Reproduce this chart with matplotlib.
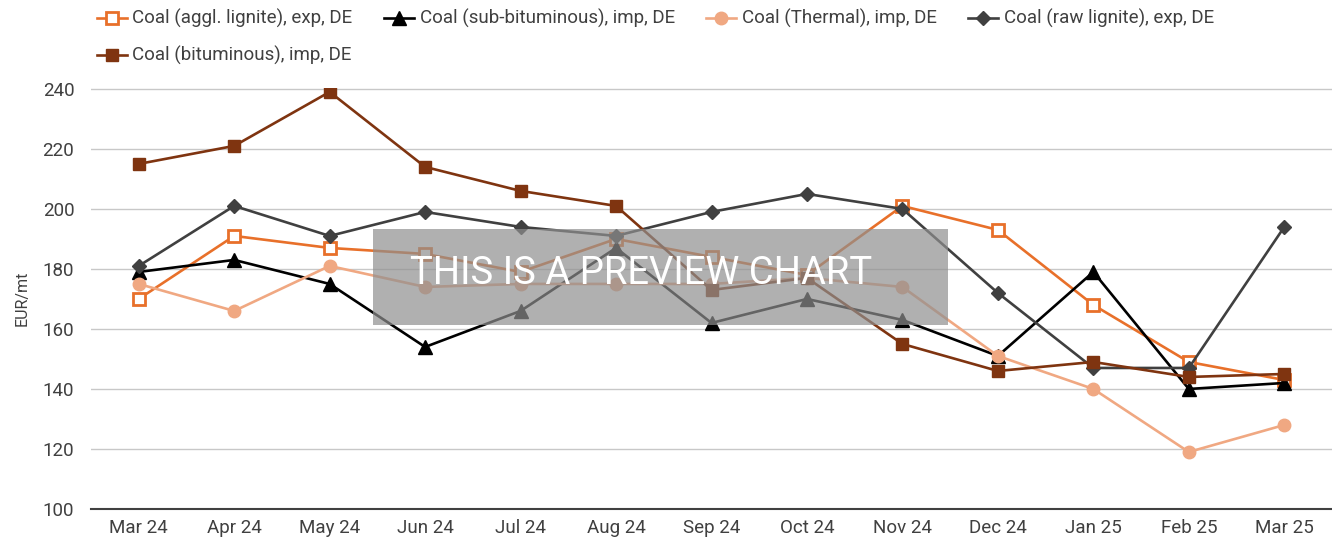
import matplotlib.pyplot as plt
from matplotlib.patches import Rectangle

plt.rcParams['font.family'] = ['Roboto', 'DejaVu Sans']

# Datos
meses = ['Mar 24', 'Apr 24', 'May 24', 'Jun 24', 'Jul 24', 'Aug 24', 'Sep 24',
         'Oct 24', 'Nov 24', 'Dec 24', 'Jan 25', 'Feb 25', 'Mar 25']

agglLignite = [170, 191, 187, 185, 179, 190, 184, 178, 201, 193, 168, 149, 143]
subBituminous = [179, 183, 175, 154, 166, 187, 162, 170, 163, 151, 179, 140, 142]
thermal = [175, 166, 181, 174, 175, 175, 175, 177, 174, 151, 140, 119, 128]
rawLignite = [181, 201, 191, 199, 194, 191, 199, 205, 200, 172, 147, 147, 194]
bituminous = [215, 221, 239, 214, 206, 201, 173, 177, 155, 146, 149, 144, 145]

fig = plt.figure(figsize=(13.32, 5.41), dpi=100)
ax = fig.add_axes([91 / 1332, 32 / 541, 1 - 91 / 1332, (509 - 88) / 541])

x = range(len(meses))
ax.plot(x, agglLignite, color='#E8702A', lw=1.9, marker='s', ms=8,
        mfc='white', mec='#E8702A', mew=2, label='Coal (aggl. lignite), exp, DE')
ax.plot(x, subBituminous, color='black', lw=1.9, marker='^', ms=10,
        label='Coal (sub-bituminous), imp, DE')
ax.plot(x, thermal, color='#F0A882', lw=1.9, marker='o', ms=9,
        label='Coal (Thermal), imp, DE')
ax.plot(x, rawLignite, color='#404040', lw=1.9, marker='D', ms=7,
        label='Coal (raw lignite), exp, DE')
ax.plot(x, bituminous, color='#7F3410', lw=1.9, marker='s', ms=9,
        label='Coal (bituminous), imp, DE')

ax.set_xlim(-0.5, len(meses) - 0.5)
ax.set_ylim(100, 240.3)
ax.set_yticks(range(100, 241, 20))
ax.set_xticks(list(x))
ax.set_xticklabels(meses)
ax.grid(axis='y', color='#C8C8C8', lw=1)
ax.set_axisbelow(True)
for s in ['top', 'right', 'left']:
    ax.spines[s].set_visible(False)
ax.spines['bottom'].set_color('#404040')
ax.spines['bottom'].set_linewidth(1.5)
ax.tick_params(axis='both', length=0, labelsize=13.5, labelcolor='#404040')
ax.tick_params(axis='y', pad=12)
ax.tick_params(axis='x', pad=7)
ax.set_ylabel('EUR/mt', fontsize=11.5, color='#404040', labelpad=9)

# Cuadro de vista previa
ax.add_patch(Rectangle((373 / 1332, 1 - 325 / 541), (948 - 373) / 1332, (325 - 229) / 541,
                       transform=fig.transFigure, facecolor='#8F8F8F', alpha=0.7,
                       edgecolor='none', zorder=10))
fig.text(410 / 1332, 1 - 273 / 541, 'THIS IS A PREVIEW CHART', color='white',
         fontsize=27.5, va='center', ha='left', zorder=11)

# Leyenda: orden para que se llene por filas
handles, labels = ax.get_legend_handles_labels()
orden = [0, 4, 1, 2, 3]
fig.legend([handles[i] for i in orden], [labels[i] for i in orden], ncol=4,
           loc='upper left', bbox_to_anchor=(80 / 1332, 1.014),
           frameon=False, fontsize=13.5, handlelength=1.6, handletextpad=0.3,
           columnspacing=1.68, labelspacing=0.95, labelcolor='#404040')

fig.savefig('out.png', dpi=100)
